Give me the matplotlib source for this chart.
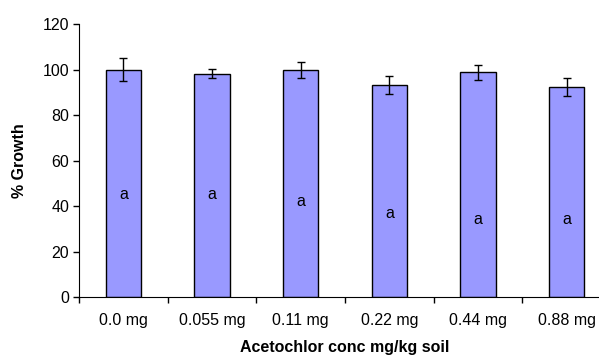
import numpy as np
import matplotlib.pyplot as plt

plt.rcParams['font.family'] = ['Liberation Sans', 'DejaVu Sans']

# data
doses = ['0.0 mg', '0.055 mg', '0.11 mg', '0.22 mg', '0.44 mg', '0.88 mg']
growth = [100.0, 98.2, 99.8, 93.4, 98.8, 92.3]
err = [5.0, 2.0, 3.7, 4.0, 3.4, 3.8]
letters = ['a', 'a', 'a', 'a', 'a', 'a']
letter_y = [45, 45, 42, 37, 34, 34]

x = np.arange(len(doses))

fig = plt.figure(figsize=(5.99, 3.59), dpi=100)
ax = fig.add_axes([0.132, 0.172, 0.888, 0.761])

ax.bar(x, growth, width=0.4, color='#9999FF', edgecolor='black', linewidth=1.0,
       yerr=err, capsize=3, error_kw=dict(elinewidth=1, capthick=1, ecolor='black'))

for xi, lab, yy in zip(x, letters, letter_y):
    ax.text(xi, yy, lab, ha='center', va='center', fontsize=11.5)

ax.set_xlim(-0.5, len(doses) - 0.5)
ax.set_ylim(0, 120)
ax.set_yticks(np.arange(0, 121, 20))
ax.set_xticks(x)
ax.set_xticklabels(doses, fontsize=11.5)
ax.set_xticks(np.arange(-0.5, len(doses), 1), minor=True)
ax.tick_params(axis='x', which='major', length=0, pad=11)
ax.tick_params(axis='x', which='minor', length=4, width=1)
ax.tick_params(axis='y', length=4, width=1, labelsize=11.5, pad=3)

for s in ['top', 'right']:
    ax.spines[s].set_visible(False)

ax.set_xlabel('Acetochlor conc mg/kg soil', fontsize=11.5, fontweight='bold', labelpad=9)
ax.set_ylabel('% Growth', fontsize=11.5, fontweight='bold', labelpad=11)

fig.savefig('out.png', dpi=100)
